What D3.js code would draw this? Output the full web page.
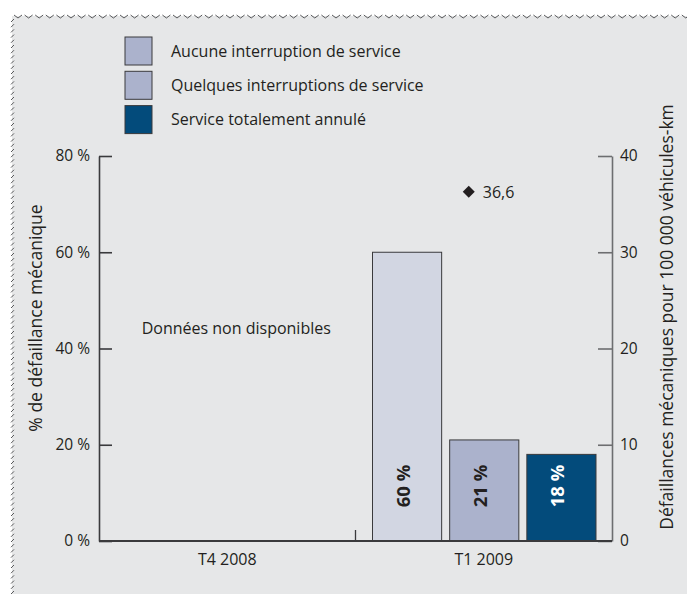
<!DOCTYPE html>
<html><head><meta charset="utf-8">
<script src="https://cdn.jsdelivr.net/npm/d3@7"></script>
<style>
body{margin:0;background:#fff}
svg{display:block}
text{font-family:"Open Sans",sans-serif;fill:#231f20}
</style>
</head><body>
<svg id="c" width="687" height="594"></svg>
<script>
// ---- data ----
const categories = ["T4 2008", "T1 2009"];
const series = ["Aucune interruption de service", "Quelques interruptions de service", "Service totalement annulé"];
const valuesT4 = [null, null, null];          // données non disponibles
const valuesT1 = [60, 21, 18];                // % de défaillance mécanique
const failuresPer100k = [null, 36.6];         // défaillances pour 100 000 véhicules-km
const leftTicks = [0, 20, 40, 60, 80];
const rightTicks = [0, 10, 20, 30, 40];
const barColors = ["#d2d6e2", "#abb2cc", "#034b7b"];
const legendColors = ["#abb2cc", "#abb2cc", "#034b7b"];
const barLabelColors = ["#231f20", "#231f20", "#ffffff"];
const noDataText = "Données non disponibles";
const leftTitle = "% de défaillance mécanique";
const rightTitle = "Défaillances mécaniques pour 100 000 véhicules-km";

const svg = d3.select("#c");
const W = 687, H = 594;

// ---- panel background with zigzag border ----
const bgLeft = 12, bgTop = 15;
svg.append("rect").attr("x", bgLeft).attr("y", bgTop + 1).attr("width", W - bgLeft).attr("height", H - bgTop)
  .attr("fill", "#e6e7e8");
const zz = d3.path();
for (let x = bgLeft + 2; x < W; x += 10.6) {
  zz.moveTo(x, bgTop); zz.lineTo(x + 4, bgTop + 3); zz.lineTo(x + 8, bgTop);
}
for (let y = bgTop + 4; y < H; y += 5.2) {
  zz.moveTo(bgLeft - 1, y + 3); zz.lineTo(bgLeft + 2, y);
}
svg.append("path").attr("d", zz.toString()).attr("fill", "none").attr("stroke", "#58595b").attr("stroke-width", 1);

// ---- scales ----
const plotL = 99, plotR = 612, plotB = 541, plotT = 156;
const y = d3.scaleLinear().domain([0, 80]).range([plotB, plotT]);
const y2 = d3.scaleLinear().domain([0, 40]).range([plotB, plotT]);
const x = d3.scaleBand().domain(categories).range([plotL, plotR]);
const xi = d3.scaleBand().domain(series).range([17, x.bandwidth() - 16]).paddingInner(0.104);

const axisColor = "#3a3a3c";

// ---- left axis ----
const gl = svg.append("g").attr("transform", `translate(${plotL},0)`)
  .call(d3.axisLeft(y).tickValues(leftTicks).tickFormat(d => d + " %").tickSizeInner(-13).tickSizeOuter(0).tickPadding(9));
gl.selectAll("text").style("font-size", "15.5px").attr("fill", "#231f20");
gl.selectAll("line,path").attr("stroke", axisColor).attr("stroke-width", 1.6);

// ---- right axis ----
const gr = svg.append("g").attr("transform", `translate(${plotR},0)`)
  .call(d3.axisRight(y2).tickValues(rightTicks).tickFormat(d3.format("d")).tickSizeInner(-14).tickSizeOuter(0).tickPadding(8));
gr.selectAll("text").style("font-size", "15.5px").attr("fill", "#231f20");
gr.selectAll("line,path").attr("stroke", "#6d6e70").attr("stroke-width", 1.6);

// ---- bars ----
const bars = svg.append("g");
[valuesT4, valuesT1].forEach((vals, ci) => {
  const cat = categories[ci];
  vals.forEach((v, si) => {
    if (v == null) return;
    const bx = x(cat) + xi(series[si]);
    bars.append("rect")
      .attr("x", bx).attr("y", y(v))
      .attr("width", xi.bandwidth()).attr("height", y(0) - y(v))
      .attr("fill", barColors[si]).attr("stroke", "#3a3a3c").attr("stroke-width", 1);
    bars.append("text")
      .attr("transform", `translate(${bx + xi.bandwidth() / 2 + 3},${y(0) - 55}) rotate(-90)`)
      .attr("text-anchor", "middle")
      .style("font-size", "18.5px").style("font-weight", "bold")
      .style("fill", barLabelColors[si])
      .text(v + " %");
  });
});

// ---- x axis baseline, divider, labels ----
svg.append("line").attr("x1", plotL).attr("x2", plotR).attr("y1", plotB).attr("y2", plotB)
  .attr("stroke", axisColor).attr("stroke-width", 1.8);
svg.append("line").attr("x1", x(categories[1])).attr("x2", x(categories[1]))
  .attr("y1", plotB).attr("y2", plotB - 11).attr("stroke", axisColor).attr("stroke-width", 1.3);
svg.selectAll(".xl").data(categories).enter().append("text")
  .attr("x", d => x(d) + x.bandwidth() / 2).attr("y", 565)
  .attr("text-anchor", "middle").style("font-size", "16px").text(d => d);

// ---- no data note ----
svg.append("text").attr("x", x(categories[0]) + x.bandwidth() / 2 + 9).attr("y", 334)
  .attr("text-anchor", "middle").style("font-size", "16px").text(noDataText);

// ---- failures per 100k (right axis) ----
failuresPer100k.forEach((v, ci) => {
  if (v == null) return;
  const cx = x(categories[ci]) + x.bandwidth() / 2 - 15;
  svg.append("path")
    .attr("d", d3.symbol(d3.symbolSquare, 72)())
    .attr("transform", `translate(${cx},${y2(v) + 3}) rotate(45)`)
    .attr("fill", "#231f20");
  svg.append("text").attr("x", cx + 14).attr("y", y2(v) + 9)
    .style("font-size", "16px").text(String(v).replace(".", ","));
});

// ---- axis titles ----
svg.append("text").attr("transform", `translate(42,318) rotate(-90)`)
  .attr("text-anchor", "middle").style("font-size", "17.5px").text(leftTitle);
svg.append("text").attr("transform", `translate(673,317) rotate(-90)`)
  .attr("text-anchor", "middle").style("font-size", "17.5px").text(rightTitle);

// ---- legend ----
const lg = svg.append("g");
series.forEach((s, i) => {
  const yy = 37 + i * 34.3;
  lg.append("rect").attr("x", 125).attr("y", yy).attr("width", 27).attr("height", 28)
    .attr("fill", legendColors[i]).attr("stroke", "#3a3a3c").attr("stroke-width", 1);
  lg.append("text").attr("x", 171).attr("y", yy + 14).attr("dy", "0.36em")
    .style("font-size", "16px").text(s);
});
</script>
</body></html>
